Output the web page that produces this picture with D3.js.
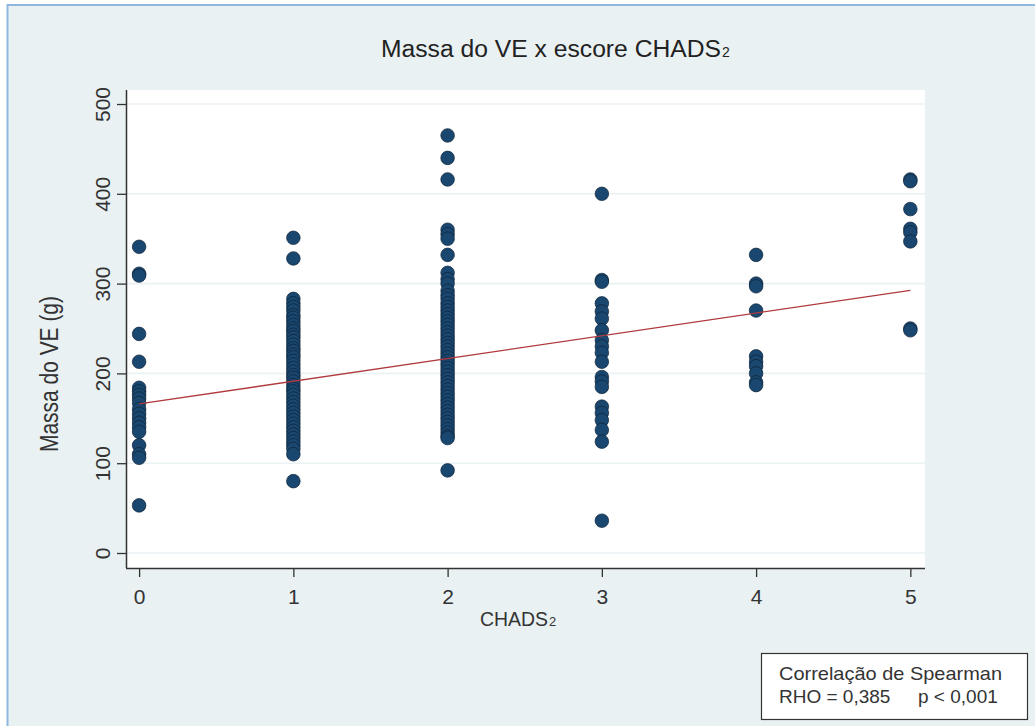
<!DOCTYPE html>
<html>
<head>
<meta charset="utf-8">
<script src="https://cdn.jsdelivr.net/npm/d3@7"></script>
<style>
  html, body { margin: 0; padding: 0; background: #ffffff; }
  svg { display: block; font-family: "Liberation Sans", Arial, sans-serif; }
</style>
</head>
<body>
<svg id="chart" width="1035" height="726"></svg>
<script>
// CHADS2 score columns and LV mass values (g)
var scores = [0, 1, 2, 3, 4, 5];
var mass0 = [341, 311, 309, 244, 213, 184, 180, 176, 172, 167, 160, 155, 150, 145, 140, 135, 120, 110, 106, 53];
var mass1 = [351, 328, 283, 278, 274, 270, 265, 262, 258, 254, 250, 247, 243, 240, 236, 232, 228, 225, 221, 218,
	214, 210, 206, 202, 198, 195, 191, 187, 183, 180, 176, 172, 168, 164, 160, 156, 152, 148, 144, 140,
	136, 132, 128, 124, 120, 116, 110, 80];
var mass2 = [465, 440, 416, 360, 355, 350, 332, 312, 305, 300, 292, 287, 283, 278, 274, 270, 266, 262, 258, 254,
	250, 246, 242, 238, 234, 230, 226, 222, 218, 214, 210, 206, 202, 198, 194, 190, 186, 182, 178, 174,
	170, 166, 162, 158, 154, 150, 146, 142, 138, 134, 130, 128, 92];
var mass3 = [400, 304, 302, 278, 269, 261, 248, 237, 230, 223, 213, 196, 191, 185, 163, 156, 148, 137, 124, 36];
var mass4 = [332, 300, 297, 270, 219, 213, 208, 200, 190, 187];
var mass5 = [416, 414, 383, 361, 357, 347, 250, 248];
var massByScore = [mass0, mass1, mass2, mass3, mass4, mass5];

// fitted line end points
var fitX = [0, 5];
var fitY = [166, 292.5];

var yTicks = [0, 100, 200, 300, 400, 500];
var titleMain = "Massa do VE x escore CHADS";
var xTitle = "CHADS";
var yTitle = "Massa do VE (g)";
var noteLine1 = "Correlação de Spearman";
var noteRho = "RHO = 0,385";
var noteP = "p < 0,001";

var svg = d3.select("#chart");
var plot = { left: 126, right: 925, top: 90, bottom: 568 };

// outer frame
svg.append("rect")
	.attr("x", 7.5)
	.attr("y", 5)
	.attr("width", 1040)
	.attr("height", 740)
	.style("fill", "#e9f1f3")
	.style("stroke", "#8fb7e0")
	.style("stroke-width", 2);

// plot region
svg.append("rect")
	.attr("x", plot.left)
	.attr("y", plot.top)
	.attr("width", plot.right - plot.left)
	.attr("height", plot.bottom - plot.top)
	.style("fill", "#ffffff");

var x = d3.scaleLinear().domain([-0.085, 5.095]).range([plot.left, plot.right]);
var y = d3.scaleLinear().domain([-16.7, 515.6]).range([plot.bottom, plot.top]);

// gridlines
svg.append("g")
	.selectAll("line")
	.data(yTicks)
	.enter()
	.append("line")
	.attr("x1", plot.left)
	.attr("x2", plot.right)
	.attr("y1", function(d) { return y(d); })
	.attr("y2", function(d) { return y(d); })
	.style("stroke", "#eaf2f3")
	.style("stroke-width", 1.6);

// y axis, labels rotated like Stata
var yAxis = svg.append("g")
	.attr("transform", "translate(" + plot.left + ",0)")
	.call(d3.axisLeft(y).tickValues(yTicks).tickSize(9).tickFormat(d3.format("d")));
yAxis.select(".domain")
	.attr("d", "M0.5," + plot.top + "V" + plot.bottom)
	.style("stroke", "#333").style("stroke-width", 1.5);
yAxis.selectAll(".tick line").style("stroke", "#333").style("stroke-width", 1.3);
yAxis.selectAll(".tick text")
	.attr("x", null)
	.attr("dy", null)
	.attr("transform", "translate(-16,0) rotate(-90)")
	.style("text-anchor", "middle")
	.style("font-size", "21px")
	.style("fill", "#333");

var xAxis = svg.append("g")
	.attr("transform", "translate(0," + plot.bottom + ")")
	.call(d3.axisBottom(x).tickValues(scores).tickSize(9).tickFormat(d3.format("d")));
xAxis.select(".domain")
	.attr("d", "M" + plot.left + ",0.5H" + plot.right)
	.style("stroke", "#333").style("stroke-width", 1.5);
xAxis.selectAll(".tick line").style("stroke", "#333").style("stroke-width", 1.3);
xAxis.selectAll(".tick text")
	.attr("y", 36)
	.attr("dy", null)
	.style("font-size", "21px")
	.style("fill", "#333");

// points
var points = [];
massByScore.forEach(function(list, i) {
	list.forEach(function(v) { points.push({ score: scores[i], mass: v }); });
});

svg.append("g")
	.selectAll("circle")
	.data(points)
	.enter()
	.append("circle")
	.attr("cx", function(d) { return x(d.score); })
	.attr("cy", function(d) { return y(d.mass); })
	.attr("r", 6.8)
	.style("fill", "#1a476f")
	.style("stroke", "#0d2238")
	.style("stroke-width", 0.7);

// fitted line
svg.append("line")
	.attr("x1", x(fitX[0]))
	.attr("y1", y(fitY[0]))
	.attr("x2", x(fitX[1]))
	.attr("y2", y(fitY[1]))
	.style("stroke", "#b03a3e")
	.style("stroke-width", 1.3);

// title
svg.append("text")
	.attr("x", 381)
	.attr("y", 57)
	.attr("textLength", 340)
	.attr("lengthAdjust", "spacingAndGlyphs")
	.style("font-size", "23px")
	.style("fill", "#222")
	.text(titleMain);
svg.append("text")
	.attr("x", 722)
	.attr("y", 57)
	.style("font-size", "14px")
	.style("fill", "#222")
	.text("2");

// x title
svg.append("text")
	.attr("x", 480)
	.attr("y", 626)
	.attr("textLength", 68)
	.attr("lengthAdjust", "spacingAndGlyphs")
	.style("font-size", "20px")
	.style("fill", "#333")
	.text(xTitle);
svg.append("text")
	.attr("x", 549)
	.attr("y", 626)
	.style("font-size", "13px")
	.style("fill", "#333")
	.text("2");

// y title
svg.append("text")
	.attr("transform", "translate(58,374) rotate(-90)")
	.attr("textLength", 156)
	.attr("lengthAdjust", "spacingAndGlyphs")
	.style("text-anchor", "middle")
	.style("font-size", "25px")
	.style("fill", "#333")
	.text(yTitle);

// note box
svg.append("rect")
	.attr("x", 761.5)
	.attr("y", 653.5)
	.attr("width", 266)
	.attr("height", 66)
	.style("fill", "#ffffff")
	.style("stroke", "#333")
	.style("stroke-width", 1.2);

svg.append("text")
	.attr("x", 779)
	.attr("y", 680)
	.attr("textLength", 223)
	.attr("lengthAdjust", "spacingAndGlyphs")
	.style("font-size", "19px")
	.style("fill", "#333")
	.text(noteLine1);
svg.append("text")
	.attr("x", 779)
	.attr("y", 703)
	.style("font-size", "19px")
	.style("fill", "#333")
	.text(noteRho);
svg.append("text")
	.attr("x", 918)
	.attr("y", 703)
	.style("font-size", "19px")
	.style("fill", "#333")
	.text(noteP);
</script>
</body>
</html>
